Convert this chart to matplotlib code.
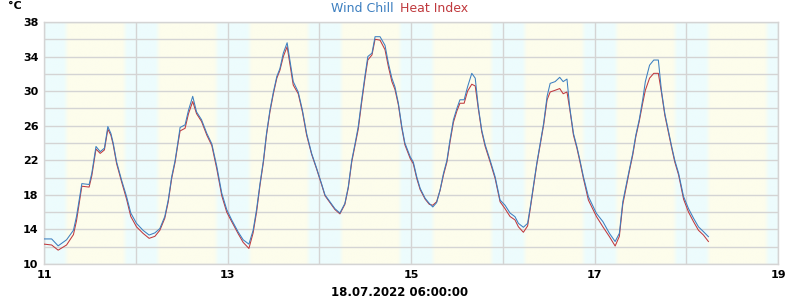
import matplotlib
matplotlib.use("Agg")
import matplotlib.pyplot as plt
import numpy as np
from matplotlib.ticker import MultipleLocator

# hours since 11.07.2022 00:00
hours = [0, 2, 3.7, 5.9, 7.7, 8.5, 9.9, 11.8, 12.5, 13.6, 14.7, 15.8, 16.7, 17.5, 18.1, 19.0, 20.3, 21.6, 22.7,
         24.2, 25.9, 27.5, 29, 30.3, 31.6, 32.5, 33.4, 34.3, 35, 35.6, 36.9, 37.8, 38.9, 39.9, 41.2, 42.6, 43.9, 45.2, 46.5, 47.8,
         49.1, 50.8, 52.1, 53.6, 54.7, 55.6, 56.5, 57.4, 58.2, 59.1, 60, 60.9, 61.7, 62.6, 63.6, 64.3, 65.2, 66.5, 67.6, 68.7, 70, 71.3,
         72.6, 73.5, 74.8, 76.1, 77.4, 78.7, 79.6, 80.5, 81.4, 82.2, 83.1, 84, 84.7, 85.8, 86.6, 87.9, 89.2, 90.1, 91, 91.8, 92.7, 93.6, 94.4, 95.8,
         96.6, 97.5, 98.4, 99.7, 100.8, 101.7, 102.7, 103.6, 104.5, 105.4, 106.2, 107.1, 108, 108.8, 109.9, 110.8, 111.9, 112.8, 113.6, 114.5, 115.4, 116.7, 118, 119.3,
         120.6, 121.9, 123.2, 124.1, 125.4, 126.5, 127.2, 128.1, 128.9, 129.8, 130.7, 131.6, 132.4, 133.7, 134.9, 135.8, 136.8, 137.5, 138.5, 139.4, 140.2, 141.1, 142.4,
         144.5, 146.2, 147.9, 149.4, 150.5, 151.4, 152.2, 153.1, 154, 154.8, 155.7, 156.6, 157.3, 158.4, 159.5, 160.7, 161.5, 162.4, 163.3, 164.2, 165, 166, 167.3,
         168.6, 169.9, 171.2, 172.5, 173.8]

wind_chill = [12.9, 12.9, 12.1, 12.8, 13.9, 15.5, 19.3, 19.2, 20.5, 23.6, 23.0, 23.4, 25.9, 25.1, 24.0, 21.8, 19.7, 17.8, 15.9,
              14.7, 13.9, 13.35, 13.6, 14.1, 15.5, 17.4, 20.1, 22.0, 24.0, 25.8, 26.1, 27.8, 29.4, 27.6, 26.7, 25.1, 23.9, 21.3, 18.2, 16.3,
              15.1, 13.7, 12.8, 12.3, 13.9, 16.3, 19.3, 22.0, 25.1, 27.8, 29.9, 31.7, 32.6, 34.4, 35.6, 33.6, 31.1, 29.9, 27.8, 25.1, 22.8, 21.1,
              19.3, 18.0, 17.2, 16.4, 15.9, 17.0, 18.95, 22.0, 24.0, 25.9, 29.0, 31.9, 34.0, 34.4, 36.3, 36.3, 35.3, 33.2, 31.5, 30.5, 28.6, 25.9, 24.0, 22.4,
              21.8, 20.1, 18.75, 17.6, 17.0, 16.6, 17.1, 18.56, 20.5, 22.0, 24.35, 26.7, 28.0, 29.0, 29.0, 30.5, 32.06, 31.5, 28.2, 25.5, 23.8, 22.0, 20.1, 17.4,
              16.8, 15.9, 15.47, 14.7, 14.25, 14.7, 16.6, 19.3, 21.65, 23.96, 26.3, 29.4, 30.9, 31.1, 31.6, 31.1, 31.4, 28.2, 25.1, 23.57, 22.0, 20.1, 17.8,
              15.86, 14.9, 13.55, 12.6, 13.55, 17.2, 18.95, 20.9, 22.8, 24.9, 26.7, 29.0, 31.1, 33.0, 33.6, 33.6, 30.1, 27.4, 25.5, 23.57, 22.0, 20.5, 17.8,
              16.4, 15.3, 14.3, 13.74, 13.16]

heat_index = [12.3, 12.2, 11.6, 12.2, 13.4, 15.0, 19.0, 18.9, 20.2, 23.3, 22.8, 23.2, 25.6, 24.9, 23.8, 21.6, 19.5, 17.5, 15.5,
              14.3, 13.55, 12.97, 13.2, 13.9, 15.3, 17.2, 19.9, 21.8, 23.8, 25.4, 25.7, 27.4, 28.8, 27.4, 26.5, 24.9, 23.7, 21.0, 17.9, 16.0,
              14.9, 13.5, 12.5, 11.8, 13.6, 16.0, 19.1, 21.8, 24.9, 27.6, 29.7, 31.5, 32.4, 34.0, 35.15, 33.2, 30.7, 29.7, 27.6, 24.9, 22.7, 21.0,
              19.2, 17.9, 17.1, 16.3, 15.8, 16.9, 18.8, 21.8, 23.8, 25.6, 28.7, 31.6, 33.6, 34.2, 36.0, 35.9, 34.8, 32.8, 31.1, 30.2, 28.4, 25.7, 23.8, 22.2,
              21.6, 19.9, 18.6, 17.5, 16.9, 16.8, 17.2, 18.5, 20.3, 21.8, 24.1, 26.4, 27.7, 28.6, 28.6, 30.0, 30.8, 30.6, 28.0, 25.3, 23.6, 21.8, 19.9, 17.2,
              16.4, 15.5, 15.1, 14.3, 13.67, 14.4, 16.4, 19.1, 21.5, 23.8, 26.1, 29.0, 29.9, 30.1, 30.3, 29.7, 29.9, 28.0, 24.9, 23.4, 21.8, 19.9, 17.4,
              15.5, 14.3, 13.17, 12.08, 13.2, 16.9, 18.7, 20.7, 22.6, 24.7, 26.5, 28.6, 30.1, 31.5, 32.06, 32.06, 29.9, 27.2, 25.3, 23.4, 21.8, 20.3, 17.5,
              16.0, 14.9, 13.9, 13.35, 12.6]

x_ticks = [11, 13, 15, 17, 19]
y_ticks = [10, 14, 18, 22, 26, 30, 34, 38]
x_label = "18.07.2022 06:00:00"

BLUE = '#3c7fc0'
RED = '#c0393d'

fig = plt.figure(figsize=(8, 3), dpi=100)
ax = fig.add_axes([44/800, 36/300, (778-44)/800, (264-22)/300])

# day / night background
xs = np.linspace(11, 19, 3200)
frac = xs % 1.0
def ramp(v, a, b):
    return np.clip((v - a) / (b - a), 0, 1)
day = np.minimum(ramp(frac, 0.215, 0.265), 1 - ramp(frac, 0.855, 0.905))
night_c = np.array([237, 252, 253]) / 255.0
day_c = np.array([253, 253, 236]) / 255.0
img = night_c[None, :] * (1 - day[:, None]) + day_c[None, :] * day[:, None]
ax.imshow(img[None, :, :], extent=[11, 19, 10, 38], aspect='auto', zorder=0, interpolation='bilinear')

xd = 11 + np.array(hours) / 24.0
ax.plot(xd, heat_index, color=RED, lw=0.75, zorder=3)
ax.plot(xd, wind_chill, color=BLUE, lw=0.75, zorder=4)

ax.set_xlim(11, 19)
ax.set_ylim(10, 38)
ax.set_xticks(x_ticks)
ax.set_xticklabels([str(t) for t in x_ticks])
ax.xaxis.set_minor_locator(MultipleLocator(1))
ax.set_yticks(y_ticks)
ax.set_yticklabels([str(t) for t in y_ticks])
ax.yaxis.set_minor_locator(MultipleLocator(2))
ax.grid(True, which='both', color='#d4d4d4', lw=1, zorder=1)
ax.set_axisbelow(False)
for gl in ax.get_xgridlines() + ax.get_ygridlines():
    gl.set_zorder(1)
ax.tick_params(which='both', length=0, labelsize=8, pad=4)
for lbl in ax.get_xticklabels() + ax.get_yticklabels():
    lbl.set_fontweight('bold')
for s in ax.spines.values():
    s.set_color('#d4d4d4')
    s.set_linewidth(1)

fig.text(8/800, 1 - 6/300, '°C', fontsize=8, fontweight='bold', va='center', ha='left')
fig.text(0.4925, 1 - 8/300, 'Wind Chill', color=BLUE, fontsize=9, ha='right', va='center')
fig.text(0.4995, 1 - 8/300, 'Heat Index', color=RED, fontsize=9, ha='left', va='center')
fig.text(0.5, 1 - 292/300, x_label, fontsize=8.5, fontweight='bold', ha='center', va='center')

fig.savefig('out.png', dpi=100)
